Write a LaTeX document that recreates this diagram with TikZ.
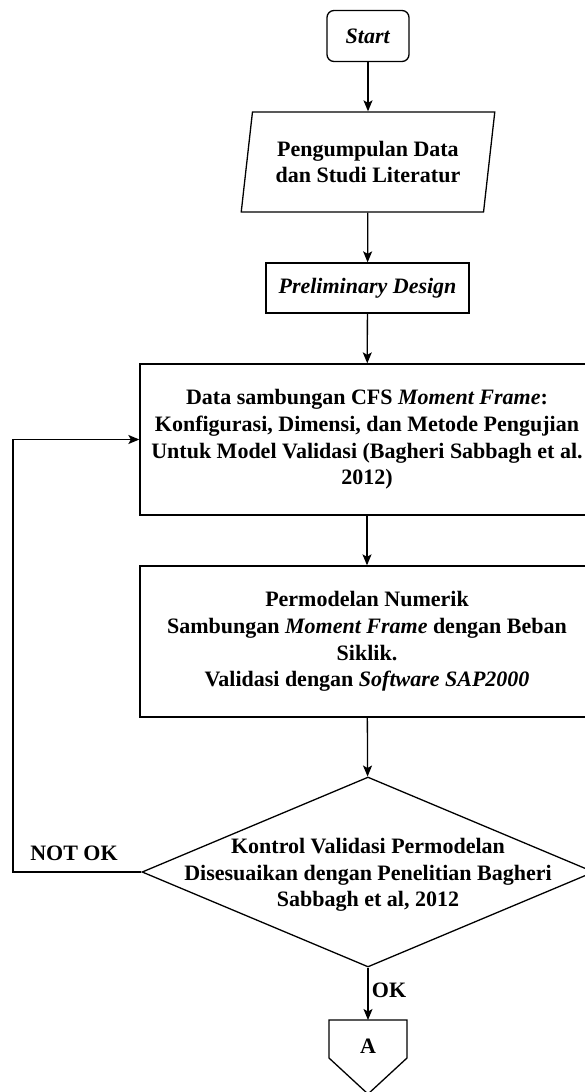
\documentclass[tikz,border=0pt]{standalone}
\usepackage{fontspec}
\setmainfont{Liberation Serif}
\usetikzlibrary{shapes.geometric,arrows.meta}

\begin{document}
\begin{tikzpicture}[x=1pt,y=-1pt,line width=1.3pt,
  teks/.style={font=\fontsize{22}{26.7}\selectfont\bfseries,align=center},
  panah/.style={-{Stealth[length=11pt,width=9pt,inset=2.5pt]}}]
\tikzstyle{every node}+=[inner sep=0pt]
\useasboundingbox (0,0) rectangle (584,1092);
\node [draw, black, rounded corners=7pt, minimum width=82, minimum height=51, teks] (start) at (368,36) {\textit{Start}};
\node [draw, black, trapezium, trapezium left angle=78, trapezium right angle=102, trapezium stretches=true, minimum width=254, minimum height=100, teks] (studi) at (368,162) {Pengumpulan Data\\dan Studi Literatur};
\node [draw, black, minimum width=203, minimum height=50, teks] (prelim) at (367.5,288) {\textit{Preliminary Design}};
\node [draw, black, minimum width=454, minimum height=151, teks] (konf) at (367,439.5) {Data sambungan CFS \textit{Moment Frame}:\\Konfigurasi, Dimensi, dan Metode Pengujian\\Untuk Model Validasi (Bagheri Sabbagh et al.\\2012)};
\node [draw, black, minimum width=454, minimum height=151, teks] (model) at (367,641.5) {Permodelan Numerik\\Sambungan \textit{Moment Frame} dengan Beban\\Siklik.\\Validasi dengan \textit{Software SAP2000}};
\node [draw, black, diamond, minimum width=452, minimum height=190] (cek) at (368,872) {};
\node [teks] (cektext) at (368,875) {Kontrol Validasi Permodelan\\Disesuaikan dengan Penelitian Bagheri\\Sabbagh et al, 2012};
\node [teks] (A) at (368,1046) {A};
\coordinate (atasA) at (368,1020);
\coordinate (balik) at (13,872);
\draw [black] (329,1020) -- (407,1020) -- (407,1058) -- (368,1094) -- (329,1058) -- cycle;
\draw [black, panah] (start) -- (studi);
\draw [black, panah] (studi) -- (prelim);
\draw [black, panah] (prelim) -- (konf);
\draw [black, panah] (konf) -- (model);
\draw [black, panah] (model) -- (cek);
\draw [black, panah] (cek.south) -- (atasA);
\draw [black, panah] (cek.west) -- (balik) |- (konf.west);
\node [teks] (notok) at (74,853) {NOT OK};
\node [teks] (ok) at (389,990) {OK};
\end{tikzpicture}
\end{document}
